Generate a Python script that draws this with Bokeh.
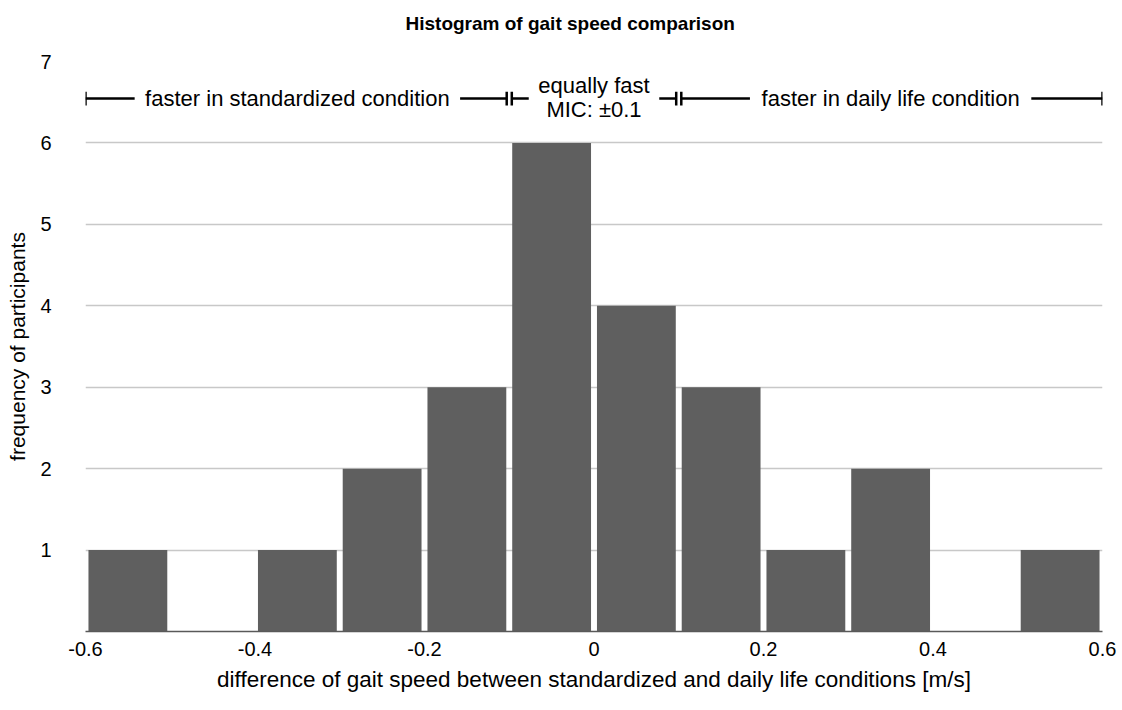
from bokeh.plotting import figure
from bokeh.models import FixedTicker, Range1d
from bokeh.core.properties import value
from bokeh.embed import file_html
from bokeh.resources import INLINE

# Histogram bins (left edges, bin width 0.1 m/s) and participant counts
bin_left = [-0.6, -0.5, -0.4, -0.3, -0.2, -0.1, 0.0, 0.1, 0.2, 0.3, 0.4, 0.5]
counts = [1, 0, 1, 2, 3, 6, 4, 3, 1, 2, 0, 1]

x_ticks = [-0.6, -0.4, -0.2, 0.0, 0.2, 0.4, 0.6]
x_tick_labels = ["-0.6", "-0.4", "-0.2", "0", "0.2", "0.4", "0.6"]
y_ticks = [1, 2, 3, 4, 5, 6, 7]

title_text = "Histogram of gait speed comparison"

# Interpretation regions along the top of the chart
region_labels = ["faster in standardized condition",
                 "equally fast|MIC: \u00b10.1",
                 "faster in daily life condition"]
region_bounds = [(-0.6, -0.1), (-0.1, 0.1), (0.1, 0.6)]

BIN_W = 0.1
FONT = "Liberation Sans"
BAR_COLOR = "#5f5f5f"

p = figure(width=1122, height=710,
           x_range=Range1d(-0.6, 0.6), y_range=Range1d(0, 7),
           output_backend="svg", toolbar_location=None,
           min_border_left=85, min_border_right=20,
           min_border_top=61, min_border_bottom=79)
p.outline_line_color = None
p.background_fill_color = "white"
p.border_fill_color = "white"

# title: a blank second line keeps it near the top of the page
p.title.text = title_text + "\n"
p.title.align = "left"
p.title.offset = 320
p.title.vertical_align = "top"
p.title.standoff = 10
p.title.text_font = FONT
p.title.text_font_size = "19px"
p.title.text_font_style = "bold"
p.title.text_color = "black"

# bars
centers = [b + BIN_W / 2 for b in bin_left]
p.vbar(x=centers, top=counts, width=BIN_W * 0.93,
       fill_color=BAR_COLOR, line_color=None)

# axes
xa = p.xaxis[0]
xa.ticker = FixedTicker(ticks=x_ticks)
xa.major_label_overrides = {t: s for t, s in zip(x_ticks, x_tick_labels)}
xa.axis_line_color = "#595959"
xa.axis_line_width = 1.5
xa.major_tick_line_color = None
xa.minor_tick_line_color = None
xa.major_label_standoff = 4
xa.major_label_text_font = FONT
xa.major_label_text_font_size = "20px"
xa.major_label_text_color = "black"
xa.axis_label = "difference of gait speed between standardized and daily life conditions [m/s]"
xa.axis_label_text_font = FONT
xa.axis_label_text_font_size = "22.5px"
xa.axis_label_text_font_style = "normal"
xa.axis_label_text_color = "black"
xa.axis_label_standoff = 8

ya = p.yaxis[0]
ya.ticker = FixedTicker(ticks=y_ticks)
ya.axis_line_color = None
ya.major_tick_line_color = None
ya.minor_tick_line_color = None
ya.major_label_standoff = 28
ya.major_label_text_font = FONT
ya.major_label_text_font_size = "20px"
ya.major_label_text_color = "black"
ya.axis_label = "frequency of participants"
ya.axis_label_text_font = FONT
ya.axis_label_text_font_size = "21px"
ya.axis_label_text_font_style = "normal"
ya.axis_label_text_color = "black"
ya.axis_label_standoff = 8

p.xgrid.visible = False
p.ygrid.ticker = FixedTicker(ticks=y_ticks)
p.ygrid.grid_line_color = "#c8c8c8"
p.ygrid.grid_line_width = 1.5

# region brackets
BRACKET_Y = 6.545
TICK_H = 0.085
SPLIT = 0.003          # half spacing of the double bar between regions
text_half_gap = [0.192, None, 0.166]
stub = 0.02

seg_x0, seg_x1, seg_y0, seg_y1 = [], [], [], []
tx, ty, tt = [], [], []
for (a, b), label, gap in zip(region_bounds, region_labels, text_half_gap):
    left = a + (SPLIT if a > -0.6 else 0)
    right = b - (SPLIT if b < 0.6 else 0)
    c = (a + b) / 2
    # end bars
    for xe in (left, right):
        seg_x0.append(xe); seg_x1.append(xe)
        seg_y0.append(BRACKET_Y - TICK_H); seg_y1.append(BRACKET_Y + TICK_H)
    if gap is not None:
        pieces = [(left, c - gap), (c + gap, right)]
        lines = [label]
        line_y = [BRACKET_Y]
    else:
        pieces = [(left, left + stub), (right - stub, right)]
        lines = label.split("|")
        line_y = [BRACKET_Y + 0.155, BRACKET_Y - 0.13]
    for x0, x1 in pieces:
        seg_x0.append(x0); seg_x1.append(x1)
        seg_y0.append(BRACKET_Y); seg_y1.append(BRACKET_Y)
    for s, yy in zip(lines, line_y):
        tx.append(c); ty.append(yy); tt.append(s)

p.segment(x0=seg_x0, y0=seg_y0, x1=seg_x1, y1=seg_y1,
          line_color="black", line_width=2.5)
p.text(x=tx, y=ty, text=tt, text_align="center", text_baseline="middle",
       text_font=value(FONT), text_font_size="22px", text_color="black")

open("out.html", "w").write(file_html(p, INLINE))
